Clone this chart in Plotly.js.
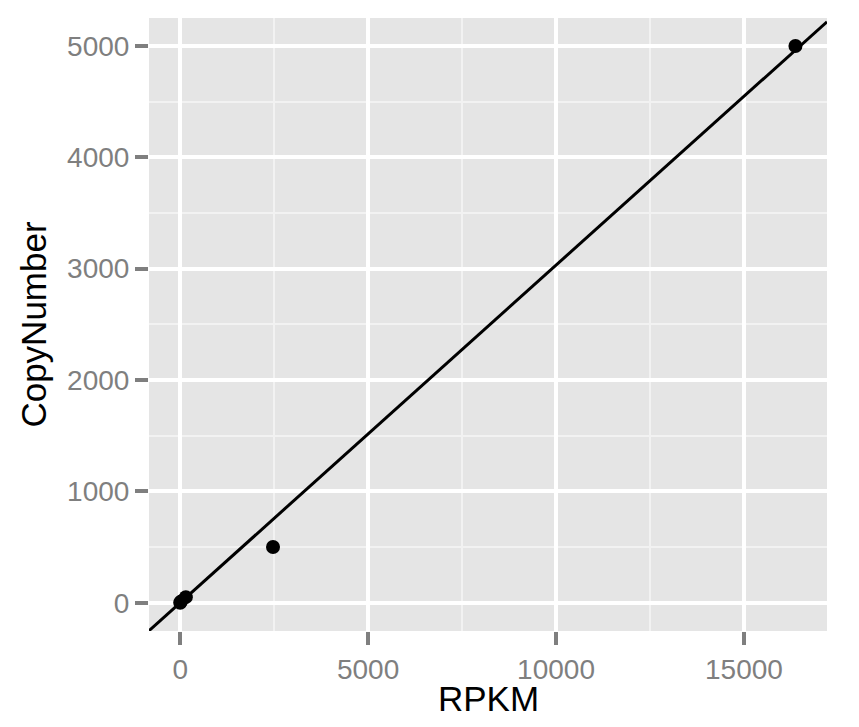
<!DOCTYPE html>
<html>
<head>
<meta charset="utf-8">
<script src="https://cdn.plot.ly/plotly-3.0.1.min.js"></script>
<style>html,body{margin:0;padding:0;background:#fff;}#chart{width:859px;height:727px;}</style>
</head>
<body>
<div id="chart"></div>
<script>
// Data
const rpkm = [0, 20, 150, 2470, 16370];
const copyNumber = [0, 10, 50, 500, 5000];
const xTickVals = [0, 5000, 10000, 15000];
const yTickVals = [0, 1000, 2000, 3000, 4000, 5000];
const xRange = [-830, 17210];
const yRange = [-254, 5251];

// Linear regression through the origin (y ~ x - 1), drawn over the full range
let sxy = 0, sxx = 0;
for (let i = 0; i < rpkm.length; i++) { sxy += rpkm[i] * copyNumber[i]; sxx += rpkm[i] * rpkm[i]; }
const slope = sxy / sxx;
const fitX = [xRange[0], xRange[1]];
const fitY = fitX.map(v => slope * v);

const font = 'Liberation Sans, Arial, Helvetica, sans-serif';

const traces = [
  {x: fitX, y: fitY, type: 'scatter', mode: 'lines', line: {color: '#000', width: 3}, hoverinfo: 'skip', cliponaxis: true},
  {x: rpkm, y: copyNumber, type: 'scatter', mode: 'markers', marker: {color: '#000', size: 14}}
];

const axisCommon = {
  showline: false, zeroline: false,
  gridcolor: '#FFFFFF', gridwidth: 4,
  ticks: 'outside', ticklen: 13, tickwidth: 4, tickcolor: '#7F7F7F',
  tickfont: {family: font, size: 28, color: '#7F7F7F'},
  automargin: false
};

const layout = {
  width: 859, height: 727,
  margin: {l: 149, r: 32, t: 18, b: 96},
  paper_bgcolor: '#FFFFFF', plot_bgcolor: '#E5E5E5',
  showlegend: false,
  xaxis: Object.assign({}, axisCommon, {
    range: xRange, tickmode: 'array', tickvals: xTickVals, ticktext: xTickVals.map(String),
    minor: {tickmode: 'array', tickvals: [2500, 7500, 12500], showgrid: true, gridcolor: '#F2F2F2', gridwidth: 2, ticks: ''}
  }),
  yaxis: Object.assign({}, axisCommon, {
    range: yRange, tickmode: 'array', tickvals: yTickVals, ticktext: yTickVals.map(String),
    minor: {tickmode: 'array', tickvals: [500, 1500, 2500, 3500, 4500], showgrid: true, gridcolor: '#F2F2F2', gridwidth: 2, ticks: ''},
    title: {text: 'CopyNumber', font: {family: font, size: 35, color: '#000'}, standoff: 9}
  }),
  annotations: [
    {text: 'RPKM', xref: 'paper', yref: 'paper', x: 0.5, y: -0.1093, xanchor: 'center', yanchor: 'middle',
     showarrow: false, font: {family: font, size: 35, color: '#000'}}
  ]
};

Plotly.newPlot('chart', traces, layout, {displayModeBar: false, staticPlot: true});
</script>
</body>
</html>
